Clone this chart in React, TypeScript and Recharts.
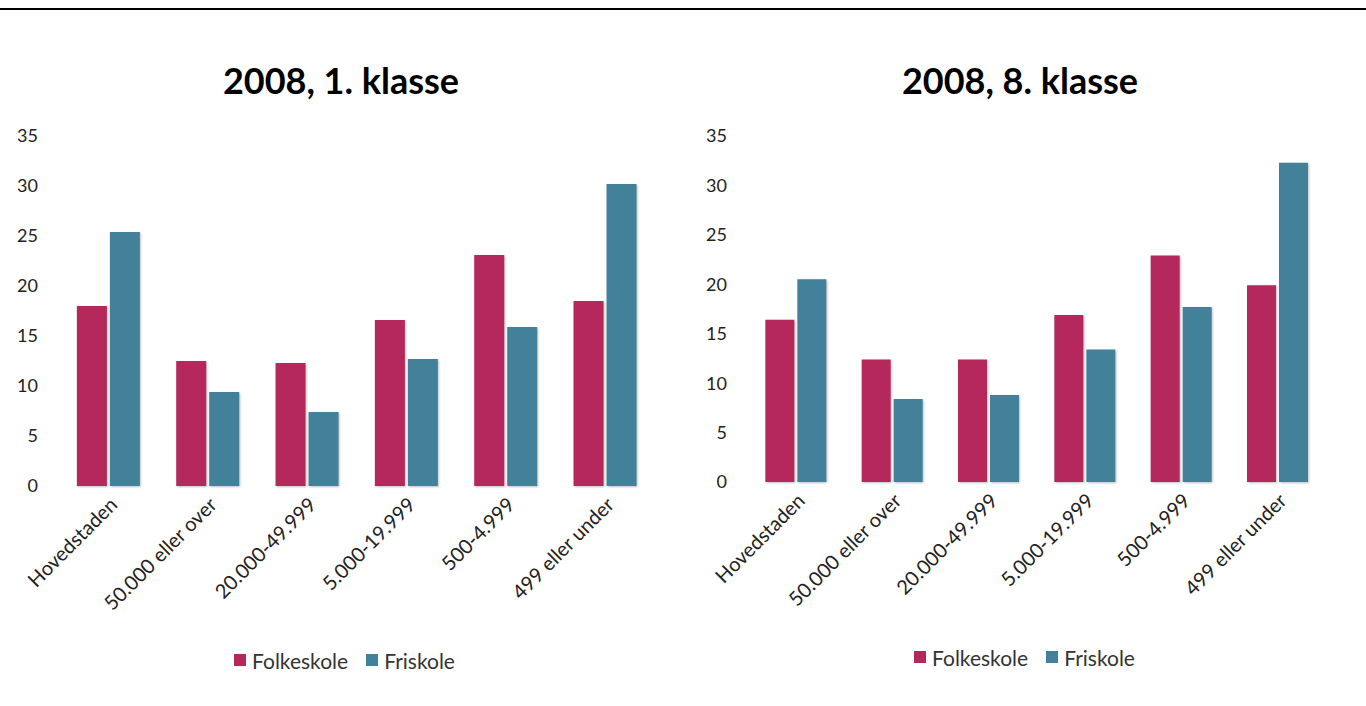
import type { ReactElement } from "react";
import { Bar, BarChart, Legend, XAxis, YAxis } from "recharts";

const categories = [
  "Hovedstaden",
  "50.000 eller over",
  "20.000-49.999",
  "5.000-19.999",
  "500-4.999",
  "499 eller under",
];
const folkeskole1 = [18.0, 12.5, 12.3, 16.6, 23.1, 18.5];
const friskole1 = [25.4, 9.4, 7.4, 12.7, 15.9, 30.2];
const folkeskole8 = [16.4, 12.4, 12.4, 16.9, 22.9, 19.9];
const friskole8 = [20.5, 8.4, 8.8, 13.4, 17.7, 32.3];
const yTicks = [0, 5, 10, 15, 20, 25, 30, 35];

const FOLKE = "#b5285b";
const FRI = "#43819a";
const FONT = "Lato, 'Open Sans', sans-serif";

type Row = { name: string; folke: number; fri: number };

function rows(folke: number[], fri: number[]): Row[] {
  return categories.map((name, i) => ({ name, folke: folke[i], fri: fri[i] }));
}

function LegendBox(): ReactElement {
  const item = (color: string, label: string) => (
    <span style={{ display: "inline-flex", alignItems: "center", margin: "0 9px" }}>
      <span style={{ width: 12, height: 12, background: color, marginRight: 6 }} />
      <span style={{ fontSize: 21, color: "#333", fontFamily: FONT }}>{label}</span>
    </span>
  );
  return (
    <div
      style={{
        display: "flex",
        justifyContent: "center",
        height: 24,
        alignItems: "center",
        paddingLeft: 34,
      }}
    >
      {item(FOLKE, "Folkeskole")}
      {item(FRI, "Friskole")}
    </div>
  );
}

type PanelProps = {
  data: Row[];
  width: number;
  height: number;
  marginLeft: number;
  marginRight: number;
  xHeight: number;
};

const barStyle = { filter: "drop-shadow(1px 1px 1px rgba(0,0,0,0.25))" };

function Panel({ data, width, height, marginLeft, marginRight, xHeight }: PanelProps): ReactElement {
  const yTick = { fill: "#222", fontSize: 18, fontFamily: FONT };
  const xTick = { fill: "#222", fontSize: 20, fontFamily: FONT };
  return (
    <BarChart
      width={width}
      height={height}
      data={data}
      margin={{ top: 16, right: marginRight, bottom: 0, left: marginLeft }}
      barCategoryGap="18%"
      barGap={3}
    >
      <XAxis
        dataKey="name"
        axisLine={false}
        tickLine={false}
        tickSize={0}
        tickMargin={10}
        interval={0}
        angle={-45}
        textAnchor="end"
        height={xHeight}
        tick={xTick}
      />
      <YAxis
        width={59}
        domain={[0, 35]}
        ticks={yTicks}
        axisLine={false}
        tickLine={false}
        tickSize={0}
        tickMargin={21}
        tick={yTick}
      />
      <Legend verticalAlign="bottom" height={24} content={() => <LegendBox />} />
      <Bar dataKey="folke" fill={FOLKE} isAnimationActive={false} style={barStyle} />
      <Bar dataKey="fri" fill={FRI} isAnimationActive={false} style={barStyle} />
    </BarChart>
  );
}

const titleStyle = {
  position: "absolute" as const,
  top: 58,
  width: 400,
  textAlign: "center" as const,
  fontFamily: FONT,
  fontWeight: 700,
  fontSize: 36,
  color: "#000",
};

export default function App(): ReactElement {
  return (
    <div style={{ position: "absolute", left: 0, top: 0, width: 1366, height: 706, background: "#fff" }}>
      <div style={{ position: "absolute", left: 0, top: 8, width: 1366, height: 2, background: "#000" }} />
      <div style={{ ...titleStyle, left: 141 }}>2008, 1. klasse</div>
      <div style={{ ...titleStyle, left: 820 }}>2008, 8. klasse</div>
      <div style={{ position: "absolute", left: 0, top: 120 }}>
        <Panel data={rows(folkeskole1, friskole1)} width={680} height={552} marginLeft={0} marginRight={25} xHeight={162} />
      </div>
      <div style={{ position: "absolute", left: 680, top: 120 }}>
        <Panel data={rows(folkeskole8, friskole8)} width={686} height={549} marginLeft={9} marginRight={40} xHeight={163} />
      </div>
    </div>
  );
}
